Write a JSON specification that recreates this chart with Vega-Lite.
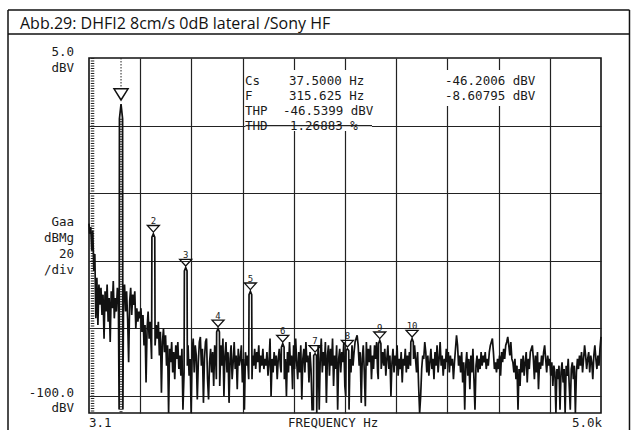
{
"$schema":"https://vega.github.io/schema/vega-lite/v6.json",
"width":512,"height":355,
"autosize":{"type":"none"},
"padding":{"left":89,"top":58,"right":30,"bottom":17},
"background":"white",
"config":{"view":{"stroke":"#111","strokeWidth":1.6},"axis":{"title":null,"labels":false,"ticks":false,"domain":false,"grid":true,"gridColor":"#222","gridWidth":1.2,"gridOpacity":1},"text":{"font":"DejaVu Sans Mono","fontSize":12.5,"color":"#1a1a1a"}},
"datasets":{
"one":[{}],
"trace":[{"f":3.1,"v":-44},{"f":10,"v":-47},{"f":20,"v":-45},{"f":30,"v":-52},{"f":40,"v":-46},{"f":50,"v":-58},{"f":60,"v":-53},{"f":70,"v":-72},{"f":80,"v":-60},{"f":90,"v":-74},{"f":100,"v":-62},
{"f":110,"v":-68},{"f":120,"v":-63},{"f":130,"v":-71},{"f":140,"v":-65},{"f":150,"v":-78},{"f":160,"v":-64},{"f":170,"v":-70},{"f":180,"v":-62},{"f":190,"v":-73},
{"f":200,"v":-66},{"f":210,"v":-79},{"f":220,"v":-64},{"f":230,"v":-69},{"f":240,"v":-61},{"f":250,"v":-72},{"f":260,"v":-66},{"f":270,"v":-70},{"f":280,"v":-63},{"f":290,"v":-67},
{"f":297,"v":-99},{"f":300,"v":-13},{"f":315.625,"v":-8.6},{"f":331,"v":-13},{"f":334,"v":-99},
{"f":340,"v":-66},{"f":350,"v":-62},{"f":360,"v":-70},{"f":370,"v":-64},{"f":380,"v":-72},{"f":390,"v":-85},{"f":400,"v":-67},{"f":410,"v":-63},{"f":420,"v":-71},{"f":430,"v":-65},{"f":440,"v":-68},{"f":450,"v":-64},{"f":460,"v":-75},{"f":470,"v":-69},{"f":480,"v":-73},{"f":490,"v":-70},
{"f":500,"v":-72},{"f":510,"v":-69},{"f":520,"v":-76},{"f":530,"v":-71},{"f":540,"v":-80},{"f":550,"v":-74},{"f":560,"v":-91},{"f":570,"v":-75},{"f":580,"v":-70},{"f":590,"v":-78},{"f":600,"v":-73},
{"f":614,"v":-84},{"f":617,"v":-48},{"f":631.25,"v":-47},{"f":645,"v":-48},{"f":648,"v":-80},
{"f":660,"v":-74},{"f":670,"v":-78},{"f":680,"v":-73},{"f":690,"v":-83},{"f":700,"v":-76},{"f":710,"v":-94},{"f":720,"v":-79},{"f":730,"v":-75},{"f":740,"v":-82},{"f":750,"v":-77},{"f":760,"v":-86},{"f":770,"v":-80},{"f":780,"v":-100},{"f":790,"v":-81},
{"f":800,"v":-85},{"f":810,"v":-79},{"f":820,"v":-88},{"f":830,"v":-82},{"f":840,"v":-90},{"f":850,"v":-80},{"f":860,"v":-84},{"f":870,"v":-79},{"f":880,"v":-87},{"f":890,"v":-83},{"f":900,"v":-89},{"f":910,"v":-81},{"f":920,"v":-99},
{"f":931,"v":-88},{"f":934,"v":-58},{"f":946.875,"v":-57},{"f":960,"v":-58},{"f":963,"v":-86},
{"f":970,"v":-80},{"f":980,"v":-89},{"f":990,"v":-84},{"f":1000,"v":-100},{"f":1010,"v":-82},{"f":1020,"v":-78},{"f":1030,"v":-88},{"f":1040,"v":-80},{"f":1050,"v":-83},{"f":1060,"v":-96},{"f":1070,"v":-85},{"f":1080,"v":-79},{"f":1090,"v":-77.5},{"f":1100,"v":-86},{"f":1110,"v":-81},{"f":1120,"v":-97},{"f":1130,"v":-84},{"f":1140,"v":-79},{"f":1150,"v":-78},{"f":1160,"v":-90},{"f":1170,"v":-96},{"f":1180,"v":-85},{"f":1190,"v":-81},{"f":1200,"v":-88},{"f":1210,"v":-82},{"f":1220,"v":-92},{"f":1230,"v":-80},{"f":1240,"v":-84},
{"f":1246,"v":-90},{"f":1249,"v":-76},{"f":1262.5,"v":-75},{"f":1276,"v":-76},{"f":1279,"v":-92},
{"f":1290,"v":-80},{"f":1300,"v":-86},{"f":1310,"v":-78},{"f":1320,"v":-95},{"f":1330,"v":-83},{"f":1340,"v":-79},{"f":1350,"v":-88},{"f":1360,"v":-82},{"f":1370,"v":-97},{"f":1380,"v":-84},{"f":1390,"v":-80},{"f":1400,"v":-90},{"f":1410,"v":-85},{"f":1420,"v":-79},{"f":1430,"v":-87},{"f":1440,"v":-83},{"f":1450,"v":-93},{"f":1460,"v":-81},{"f":1470,"v":-86},{"f":1480,"v":-84},{"f":1490,"v":-80},{"f":1500,"v":-91},{"f":1510,"v":-84},{"f":1520,"v":-99},{"f":1530,"v":-82},{"f":1540,"v":-86},{"f":1550,"v":-83},
{"f":1562,"v":-90},{"f":1565,"v":-65},{"f":1578.125,"v":-64},{"f":1591,"v":-65},{"f":1594,"v":-90},
{"f":1600,"v":-83},{"f":1610,"v":-86},{"f":1620,"v":-81},{"f":1630,"v":-87},{"f":1640,"v":-82},{"f":1650,"v":-85},{"f":1660,"v":-80},{"f":1670,"v":-88},{"f":1680,"v":-83},{"f":1690,"v":-86},{"f":1700,"v":-81},{"f":1710,"v":-87},{"f":1720,"v":-84},{"f":1730,"v":-86},{"f":1740,"v":-82},{"f":1750,"v":-89},{"f":1760,"v":-85},{"f":1770,"v":-78},{"f":1780,"v":-95},{"f":1790,"v":-84},{"f":1800,"v":-88},{"f":1810,"v":-82},{"f":1820,"v":-86},{"f":1830,"v":-83},{"f":1840,"v":-90},{"f":1850,"v":-84},{"f":1860,"v":-81},{"f":1870,"v":-86},
{"f":1878,"v":-88},{"f":1881,"v":-80.5},{"f":1893.75,"v":-79.5},{"f":1907,"v":-80.5},{"f":1910,"v":-90},
{"f":1920,"v":-84},{"f":1930,"v":-95},{"f":1940,"v":-82},{"f":1950,"v":-88},{"f":1960,"v":-79},{"f":1970,"v":-86},{"f":1980,"v":-83},{"f":1990,"v":-93},{"f":2000,"v":-80},{"f":2010,"v":-87},{"f":2020,"v":-78},{"f":2030,"v":-85},{"f":2040,"v":-90},{"f":2050,"v":-82},{"f":2060,"v":-88},{"f":2070,"v":-80},{"f":2080,"v":-96},{"f":2090,"v":-84},{"f":2100,"v":-81},{"f":2110,"v":-88},{"f":2120,"v":-79},{"f":2130,"v":-85},{"f":2140,"v":-83},{"f":2150,"v":-91},{"f":2160,"v":-82},{"f":2170,"v":-87},{"f":2180,"v":-99},
{"f":2193,"v":-99},{"f":2196,"v":-83},{"f":2209.375,"v":-82.5},{"f":2223,"v":-83},{"f":2226,"v":-100},
{"f":2232,"v":-87},{"f":2240,"v":-80},{"f":2250,"v":-99},{"f":2260,"v":-84},{"f":2270,"v":-78},{"f":2280,"v":-88},{"f":2290,"v":-82},{"f":2300,"v":-86},{"f":2310,"v":-79},{"f":2320,"v":-97},{"f":2330,"v":-83},{"f":2340,"v":-80},{"f":2350,"v":-89},{"f":2360,"v":-81},{"f":2370,"v":-86},{"f":2380,"v":-78},{"f":2390,"v":-92},{"f":2400,"v":-83},{"f":2410,"v":-87},{"f":2420,"v":-80},{"f":2430,"v":-99},{"f":2440,"v":-84},{"f":2450,"v":-81},{"f":2460,"v":-88},{"f":2470,"v":-82},{"f":2480,"v":-85},{"f":2490,"v":-79},{"f":2500,"v":-92},
{"f":2509,"v":-95},{"f":2512,"v":-81.5},{"f":2525,"v":-81},{"f":2538,"v":-81.5},{"f":2541,"v":-99},
{"f":2550,"v":-84},{"f":2560,"v":-88},{"f":2570,"v":-80},{"f":2580,"v":-86},{"f":2590,"v":-82},{"f":2600,"v":-79},{"f":2610,"v":-78},{"f":2620,"v":-77},{"f":2630,"v":-80},{"f":2640,"v":-86},{"f":2650,"v":-82},{"f":2660,"v":-97},{"f":2670,"v":-84},{"f":2680,"v":-80},{"f":2690,"v":-88},{"f":2700,"v":-98},{"f":2710,"v":-79},{"f":2720,"v":-86},{"f":2730,"v":-81},{"f":2740,"v":-85},{"f":2750,"v":-80},{"f":2760,"v":-90},{"f":2770,"v":-83},{"f":2780,"v":-87},{"f":2790,"v":-80},{"f":2800,"v":-84},{"f":2810,"v":-79},{"f":2820,"v":-88},
{"f":2826,"v":-90},{"f":2829,"v":-79.5},{"f":2840.625,"v":-78.5},{"f":2852,"v":-79.5},{"f":2855,"v":-87},
{"f":2870,"v":-82},{"f":2880,"v":-86},{"f":2890,"v":-81},{"f":2900,"v":-89},{"f":2910,"v":-84},{"f":2920,"v":-80},{"f":2930,"v":-87},{"f":2940,"v":-83},{"f":2950,"v":-95},{"f":2960,"v":-85},{"f":2970,"v":-81},{"f":2980,"v":-88},{"f":2990,"v":-83},{"f":3000,"v":-86},{"f":3010,"v":-80},{"f":3020,"v":-89},{"f":3030,"v":-84},{"f":3040,"v":-87},{"f":3050,"v":-82},{"f":3060,"v":-91},{"f":3070,"v":-84},{"f":3080,"v":-86},{"f":3090,"v":-81},{"f":3100,"v":-88},{"f":3110,"v":-83},{"f":3120,"v":-87},{"f":3130,"v":-82},
{"f":3141,"v":-86},{"f":3144,"v":-79},{"f":3156.25,"v":-78},{"f":3168,"v":-79},{"f":3171,"v":-84},
{"f":3180,"v":-80},{"f":3190,"v":-84},{"f":3200,"v":-88},{"f":3210,"v":-82},{"f":3220,"v":-92},{"f":3230,"v":-100},{"f":3240,"v":-95},{"f":3250,"v":-87},{"f":3260,"v":-83},{"f":3270,"v":-84},{"f":3280,"v":-79},{"f":3290,"v":-82},{"f":3300,"v":-88},{"f":3310,"v":-83},{"f":3320,"v":-89},{"f":3330,"v":-85},{"f":3340,"v":-81},{"f":3350,"v":-87},{"f":3360,"v":-84},{"f":3370,"v":-90},{"f":3380,"v":-82},{"f":3390,"v":-86},{"f":3400,"v":-80},{"f":3410,"v":-88},{"f":3420,"v":-84},{"f":3430,"v":-79},{"f":3440,"v":-86},{"f":3450,"v":-83},{"f":3460,"v":-89},{"f":3470,"v":-84},{"f":3480,"v":-87},{"f":3490,"v":-81},{"f":3500,"v":-85},{"f":3510,"v":-82},{"f":3520,"v":-88},{"f":3530,"v":-83},{"f":3540,"v":-86},{"f":3550,"v":-84},{"f":3560,"v":-90},{"f":3570,"v":-85},{"f":3580,"v":-81},{"f":3590,"v":-77},{"f":3600,"v":-80},{"f":3610,"v":-86},{"f":3620,"v":-83},{"f":3630,"v":-88},{"f":3640,"v":-82},{"f":3650,"v":-91},{"f":3660,"v":-85},{"f":3670,"v":-99},{"f":3680,"v":-86},{"f":3690,"v":-82},{"f":3700,"v":-89},{"f":3710,"v":-84},{"f":3720,"v":-93},{"f":3730,"v":-83},{"f":3740,"v":-88},{"f":3750,"v":-81},{"f":3760,"v":-90},{"f":3770,"v":-99},{"f":3780,"v":-86},{"f":3790,"v":-83},{"f":3800,"v":-88},{"f":3810,"v":-84},{"f":3820,"v":-87},{"f":3830,"v":-82},{"f":3840,"v":-86},{"f":3850,"v":-83},{"f":3860,"v":-85},{"f":3870,"v":-82},{"f":3880,"v":-87},{"f":3890,"v":-84},{"f":3900,"v":-86},{"f":3910,"v":-82},{"f":3920,"v":-80},{"f":3930,"v":-79},{"f":3940,"v":-78},{"f":3950,"v":-82},{"f":3960,"v":-87},{"f":3970,"v":-85},{"f":3980,"v":-88},{"f":3990,"v":-84},{"f":4000,"v":-87},{"f":4010,"v":-83},{"f":4020,"v":-89},{"f":4030,"v":-82},{"f":4040,"v":-85},{"f":4050,"v":-81},{"f":4060,"v":-84},{"f":4070,"v":-80},{"f":4080,"v":-79},{"f":4090,"v":-77.5},{"f":4100,"v":-80},{"f":4110,"v":-83},{"f":4120,"v":-79},{"f":4130,"v":-84},{"f":4140,"v":-85},{"f":4150,"v":-88},{"f":4160,"v":-84},{"f":4170,"v":-90},{"f":4180,"v":-86},{"f":4190,"v":-99},{"f":4200,"v":-87},{"f":4210,"v":-92},{"f":4220,"v":-84},{"f":4230,"v":-88},{"f":4240,"v":-83},{"f":4250,"v":-89},{"f":4260,"v":-85},{"f":4270,"v":-82},{"f":4280,"v":-91},{"f":4290,"v":-84},{"f":4300,"v":-87},{"f":4310,"v":-82},{"f":4320,"v":-81},{"f":4330,"v":-80},{"f":4340,"v":-84},{"f":4350,"v":-90},{"f":4360,"v":-83},{"f":4370,"v":-88},{"f":4380,"v":-82},{"f":4390,"v":-93},{"f":4400,"v":-85},{"f":4410,"v":-87},{"f":4420,"v":-83},{"f":4430,"v":-86},{"f":4440,"v":-82},{"f":4450,"v":-80},{"f":4460,"v":-84},{"f":4470,"v":-88},{"f":4480,"v":-83},{"f":4490,"v":-86},{"f":4500,"v":-84},{"f":4510,"v":-89},{"f":4520,"v":-85},{"f":4530,"v":-92},{"f":4540,"v":-86},{"f":4550,"v":-88},{"f":4560,"v":-100},{"f":4570,"v":-87},{"f":4580,"v":-90},{"f":4590,"v":-86},{"f":4600,"v":-99},{"f":4610,"v":-88},{"f":4620,"v":-85},{"f":4630,"v":-91},{"f":4640,"v":-87},{"f":4650,"v":-100},{"f":4660,"v":-86},{"f":4670,"v":-89},{"f":4680,"v":-84},{"f":4690,"v":-92},{"f":4700,"v":-99},{"f":4710,"v":-87},{"f":4720,"v":-85},{"f":4730,"v":-90},{"f":4740,"v":-86},{"f":4750,"v":-100},{"f":4760,"v":-88},{"f":4770,"v":-84},{"f":4780,"v":-87},{"f":4790,"v":-83},{"f":4800,"v":-86},{"f":4810,"v":-82},{"f":4820,"v":-88},{"f":4830,"v":-84},{"f":4840,"v":-80},{"f":4850,"v":-83},{"f":4860,"v":-87},{"f":4870,"v":-84},{"f":4880,"v":-82},{"f":4890,"v":-88},{"f":4900,"v":-83},{"f":4910,"v":-85},{"f":4920,"v":-90},{"f":4930,"v":-83},{"f":4940,"v":-80},{"f":4950,"v":-84},{"f":4960,"v":-87},{"f":4970,"v":-83},{"f":4980,"v":-86},{"f":4990,"v":-81},{"f":5000,"v":-77.5}],
"harm":[{"f":631.25,"v":-47,"n":"2"},{"f":946.875,"v":-57,"n":"3"},{"f":1262.5,"v":-75,"n":"4"},{"f":1578.125,"v":-64,"n":"5"},{"f":1893.75,"v":-79.5,"n":"6"},{"f":2209.375,"v":-82.5,"n":"7"},{"f":2525,"v":-81,"n":"8"},{"f":2840.625,"v":-78.5,"n":"9"},{"f":3156.25,"v":-78,"n":"10"}],
"fund":[{"f":315.625,"v":-8.6}],
"leftlab":[{"f":-143.3,"v":6.77,"t":"5.0"},{"f":-143.3,"v":2.04,"t":"dBV"},{"f":-143.3,"v":-43.5,"t":"Gaa"},{"f":-143.3,"v":-48.2,"t":"dBMg"},{"f":-143.3,"v":-52.9,"t":"20"},{"f":-143.3,"v":-57.7,"t":"/div"},{"f":-143.3,"v":-94.1,"t":"-100.0"},{"f":-143.3,"v":-98.5,"t":"dBV"}],
"lab":[{"f":3.1,"v":-103,"t":"3.1"},{"f":1945,"v":-103,"t":"FREQUENCY Hz"},{"f":1525.6,"v":-1.8,"t":"Cs"},{"f":1525.6,"v":-6.24,"t":"F"},{"f":1525.6,"v":-10.68,"t":"THP"},{"f":1525.6,"v":-15.1,"t":"THD"},{"f":1955,"v":-1.8,"t":"37.5000 Hz"},{"f":1955,"v":-6.24,"t":"315.625 Hz"},{"f":1896.5,"v":-10.68,"t":"-46.5399 dBV"},{"f":1965,"v":-15.1,"t":"1.26883 %"},{"f":3477.5,"v":-1.8,"t":"-46.2006 dBV"},{"f":3477.5,"v":-6.24,"t":"-8.60795 dBV"}],
"rightlab":[{"f":5009.7,"v":-103,"t":"5.0k"}],
"title":[{"f":-670.3,"v":13.58,"t":"Abb.29: DHFI2 8cm/s 0dB lateral /Sony HF"}]
},
"layer":[
{"data":{"name":"one"},"mark":{"type":"rect","color":"white"},"encoding":{"x":{"datum":1530.5,"type":"quantitative","scale":{"domain":[3.1,5000],"nice":false,"zero":false},"axis":{"values":[502.79,1002.48,1502.17,2001.86,2501.55,3001.24,3500.93,4000.62,4500.31]}},"x2":{"datum":2765},"y":{"datum":1.45,"type":"quantitative","scale":{"domain":[-100,5],"nice":false,"zero":false},"axis":{"values":[-15,-35,-55,-75,-95]}},"y2":{"datum":-16.6}}},
{"data":{"name":"one"},"mark":{"type":"rule","color":"#222","strokeWidth":1.2},"encoding":{"y":{"datum":-15,"type":"quantitative"},"x":{"datum":1530.5,"type":"quantitative"},"x2":{"datum":2765}}},
{"data":{"name":"one"},"mark":{"type":"rect","color":"white"},"encoding":{"x":{"datum":3428.7,"type":"quantitative"},"x2":{"datum":4404.6},"y":{"datum":1.45,"type":"quantitative"},"y2":{"datum":-9.2}}},
{"data":{"name":"one"},"mark":{"type":"rule","color":"#222","strokeWidth":3.5,"strokeDash":[1,1.5]},"encoding":{"x":{"datum":37.5,"type":"quantitative"},"y":{"datum":5,"type":"quantitative"},"y2":{"datum":-100}}},
{"data":{"name":"one"},"mark":{"type":"rule","color":"#222","strokeWidth":1,"strokeDash":[1.5,1.5]},"encoding":{"x":{"datum":315.625,"type":"quantitative"},"y":{"datum":5,"type":"quantitative"},"y2":{"datum":-4.2}}},
{"data":{"name":"one"},"mark":{"type":"rule","color":"#222","strokeWidth":3,"strokeDash":[1,1.5]},"encoding":{"x":{"datum":315.625,"type":"quantitative"},"y":{"datum":-13,"type":"quantitative"},"y2":{"datum":-100}}},
{"data":{"name":"trace"},"mark":{"type":"line","color":"#111","strokeWidth":1.7},"encoding":{"x":{"field":"f","type":"quantitative"},"y":{"field":"v","type":"quantitative"}}},
{"data":{"name":"harm"},"mark":{"type":"point","shape":"M-1,-0.55L1,-0.55L0,0.55Z","size":144,"filled":false,"stroke":"#111","strokeWidth":1.3,"opacity":1,"yOffset":-5},"encoding":{"x":{"field":"f","type":"quantitative"},"y":{"field":"v","type":"quantitative"}}},
{"data":{"name":"harm"},"mark":{"type":"text","fontSize":9,"dy":-12.5,"align":"center","baseline":"middle"},"encoding":{"x":{"field":"f","type":"quantitative"},"y":{"field":"v","type":"quantitative"},"text":{"field":"n"}}},
{"data":{"name":"fund"},"mark":{"type":"point","shape":"M-1,-0.8L1,-0.8L0,0.8Z","size":196,"filled":false,"stroke":"#111","strokeWidth":1.5,"opacity":1,"yOffset":-9.6},"encoding":{"x":{"field":"f","type":"quantitative"},"y":{"field":"v","type":"quantitative"}}},
{"data":{"name":"leftlab"},"mark":{"type":"text","align":"right","baseline":"middle"},"encoding":{"x":{"field":"f","type":"quantitative"},"y":{"field":"v","type":"quantitative"},"text":{"field":"t"}}},
{"data":{"name":"lab"},"mark":{"type":"text","align":"left","baseline":"middle"},"encoding":{"x":{"field":"f","type":"quantitative"},"y":{"field":"v","type":"quantitative"},"text":{"field":"t"}}},
{"data":{"name":"rightlab"},"mark":{"type":"text","align":"right","baseline":"middle"},"encoding":{"x":{"field":"f","type":"quantitative"},"y":{"field":"v","type":"quantitative"},"text":{"field":"t"}}},
{"data":{"name":"title"},"mark":{"type":"text","align":"left","baseline":"alphabetic","font":"Open Sans","fontSize":16,"color":"#111"},"encoding":{"x":{"field":"f","type":"quantitative"},"y":{"field":"v","type":"quantitative"},"text":{"field":"t"}}},
{"data":{"name":"one"},"mark":{"type":"rule","color":"#111","strokeWidth":1.5},"encoding":{"x":{"datum":-787.4,"type":"quantitative"},"y":{"datum":19.2,"type":"quantitative"},"y2":{"datum":-106}}},
{"data":{"name":"one"},"mark":{"type":"rule","color":"#111","strokeWidth":1.5},"encoding":{"x":{"datum":5278,"type":"quantitative"},"y":{"datum":19.2,"type":"quantitative"},"y2":{"datum":-106}}},
{"data":{"name":"one"},"mark":{"type":"rule","color":"#111","strokeWidth":1.5},"encoding":{"y":{"datum":19.2,"type":"quantitative"},"x":{"datum":-787.4,"type":"quantitative"},"x2":{"datum":5278}}},
{"data":{"name":"one"},"mark":{"type":"rule","color":"#111","strokeWidth":1.5},"encoding":{"y":{"datum":12.1,"type":"quantitative"},"x":{"datum":-787.4,"type":"quantitative"},"x2":{"datum":5278}}}
]
}
